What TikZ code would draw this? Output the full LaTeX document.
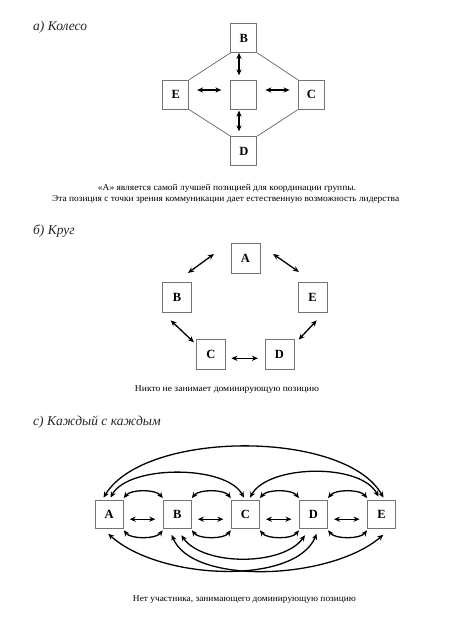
\documentclass[tikz,border=0pt]{standalone}
\usepackage{fontspec}
\setmainfont{Liberation Serif}
\usepackage{graphicx}
\usetikzlibrary{arrows.meta,calc}
\begin{document}
\begin{tikzpicture}[x=1pt,y=1pt,
  box/.style={draw=black!55, line width=0.8pt, minimum width=26pt, minimum height=29pt, inner sep=0pt, font=\fontsize{12.5}{12.5}\selectfont\bfseries},
  cbox/.style={box, minimum width=28.3pt, minimum height=28.3pt},
  bbox/.style={box, minimum width=29pt, minimum height=30pt},
  rim/.style={draw=black!60, line width=0.7pt},
  arr/.style={line width=1.3pt, {Stealth[length=6pt,width=5.2pt]}-{Stealth[length=6pt,width=5.2pt]}},
  ttl/.style={anchor=base west, inner sep=0pt, text=black!85, font=\fontsize{13.5}{13.5}\selectfont\itshape},
  captxt/.style={anchor=base, inner sep=0pt, font=\fontsize{9}{9}\selectfont},
]
\fill[white] (0,0) rectangle (456,-624);
\useasboundingbox (0,0) rectangle (456,-624);

% ---------- a) wheel ----------
\node[ttl] (ta) at (33,-30.5) {а) Колесо};
\node[box] (aB) at (243.8,-38) {B};
\node[box] (aE) at (175.7,-94.7) {E};
\node[box] (aA) at (243.8,-94.7) {};
\node[box] (aC) at (311.3,-94.7) {C};
\node[box] (aD) at (243.8,-151) {D};
\draw[rim] (aB.south west) -- (aE.north east);
\draw[rim] (aB.south east) -- (aC.north west);
\draw[rim] (aE.south east) -- (aD.north west);
\draw[rim] (aC.south west) -- (aD.north east);
\draw[arr] ([xshift=-4.8pt]aB.south) -- ([xshift=-4.8pt,yshift=4.5pt]aA.north);
\draw[arr] ([xshift=-4.8pt,yshift=-1pt]aA.south) -- ([xshift=-4.8pt,yshift=4.8pt]aD.north);
\draw[arr] ([xshift=8pt,yshift=4.7pt]aE.east) -- ([xshift=-9pt,yshift=4.7pt]aA.west);
\draw[arr] ([xshift=8.2pt,yshift=4.7pt]aA.east) -- ([xshift=-8.3pt,yshift=4.7pt]aC.west);
\node[captxt] (ca1) at (227,-190.3) {\resizebox{258pt}{\height}{«А» является самой лучшей позицией для координации группы.}};
\node[captxt] (ca2) at (225.7,-201.3) {\resizebox{347pt}{\height}{Эта позиция с точки зрения коммуникации дает естественную возможность лидерства}};

% ---------- b) circle ----------
\node[ttl] (tb) at (33,-234.5) {б) Круг};
\node[bbox] (bA) at (245.5,-258.3) {A};
\node[bbox] (bB) at (177,-297) {B};
\node[bbox] (bE) at (312.5,-297) {E};
\node[bbox] (bC) at (211,-354) {C};
\node[bbox] (bD) at (279.5,-354) {D};
\draw[arr] ([xshift=-16.7pt,yshift=4.3pt]bA.west) -- ([xshift=-3.8pt,yshift=8.7pt]bB.north east);
\draw[arr] ([xshift=12.7pt,yshift=4.3pt]bA.east) -- ([xshift=1.3pt,yshift=9.7pt]bE.north west);
\draw[arr] ([xshift=-6.3pt,yshift=-8pt]bB.south) -- ([xshift=-2.2pt,yshift=-3.7pt]bC.north west);
\draw[arr] ([xshift=4.2pt,yshift=-8pt]bE.south) -- ([xshift=4.3pt,yshift=-1pt]bD.north east);
\draw[arr] ([xshift=5.5pt,yshift=-4.3pt]bC.east) -- ([xshift=-6.7pt,yshift=-4.3pt]bD.west);
\node[captxt] (cb) at (227,-391) {\resizebox{184pt}{\height}{Никто не занимает доминирующую позицию}};

% ---------- c) all-channel ----------
\node[ttl] (tc) at (33,-425.5) {с) Каждый с каждым};
\node[cbox] (cA) at (109.2,-514.2) {A};
\node[cbox] (cB) at (177.3,-514.2) {B};
\node[cbox] (cC) at (245.4,-514.2) {C};
\node[cbox] (cD) at (313.5,-514.2) {D};
\node[cbox] (cE) at (381.6,-514.2) {E};
% straight arrows
\draw[arr] ([xshift=6pt,yshift=-5pt]cA.east) -- ([xshift=-7.5pt,yshift=-5pt]cB.west);
\draw[arr] ([xshift=6pt,yshift=-5pt]cB.east) -- ([xshift=-7.5pt,yshift=-5pt]cC.west);
\draw[arr] ([xshift=6pt,yshift=-5pt]cC.east) -- ([xshift=-7.5pt,yshift=-5pt]cD.west);
\draw[arr] ([xshift=6pt,yshift=-5pt]cD.east) -- ([xshift=-7.5pt,yshift=-5pt]cE.west);
% small arcs, top and bottom
\draw[arr] ([yshift=1.5pt]cA.north east) .. controls +(7,9) and +(-7,9) .. ([yshift=1.5pt]cB.north west);
\draw[arr] ([yshift=1.5pt]cB.north east) .. controls +(7,9) and +(-7,9) .. ([yshift=1.5pt]cC.north west);
\draw[arr] ([yshift=1.5pt]cC.north east) .. controls +(7,9) and +(-7,9) .. ([yshift=1.5pt]cD.north west);
\draw[arr] ([yshift=1.5pt]cD.north east) .. controls +(7,9) and +(-7,9) .. ([yshift=1.5pt]cE.north west);
\draw[arr] ([yshift=-1.5pt]cA.south east) .. controls +(7,-9) and +(-7,-9) .. ([yshift=-1.5pt]cB.south west);
\draw[arr] ([yshift=-1.5pt]cB.south east) .. controls +(7,-9) and +(-7,-9) .. ([yshift=-1.5pt]cC.south west);
\draw[arr] ([yshift=-1.5pt]cC.south east) .. controls +(7,-9) and +(-7,-9) .. ([yshift=-1.5pt]cD.south west);
\draw[arr] ([yshift=-1.5pt]cD.south east) .. controls +(7,-9) and +(-7,-9) .. ([yshift=-1.5pt]cE.south west);
% large top arcs
\draw[arr] ([xshift=-5.7pt,yshift=2pt]cA.north) .. controls +(41.5,68) and +(-38.5,68) .. ([xshift=1.9pt,yshift=2pt]cE.north);
\draw[arr] ([xshift=1.3pt,yshift=2pt]cA.north) .. controls +(18,33) and +(-18,33) .. ([xshift=-1.4pt,yshift=2pt]cC.north);
\draw[arr] ([xshift=4.6pt,yshift=2pt]cC.north) .. controls +(18,33) and +(-18,34) .. ([xshift=-3.1pt,yshift=3pt]cE.north);
% large bottom arcs
\draw[arr] ([xshift=-1pt,yshift=-5pt]cA.south) .. controls +(51.8,-46.7) and +(-21.7,-51.7) .. ([xshift=3.2pt,yshift=-5pt]cD.south);
\draw[arr] ([xshift=-5.6pt,yshift=-6pt]cB.south) .. controls +(20.3,-50.7) and +(-53.3,-45.7) .. ([xshift=1.7pt,yshift=-6pt]cE.south);
\draw[arr] ([xshift=4pt,yshift=-6.5pt]cB.south) .. controls +(22,-31) and +(-22,-31) .. ([xshift=-8.5pt,yshift=-6.5pt]cD.south);
\node[captxt] (cc) at (244.5,-601) {\resizebox{223pt}{\height}{Нет участника, занимающего доминирующую позицию}};
\end{tikzpicture}
\end{document}
